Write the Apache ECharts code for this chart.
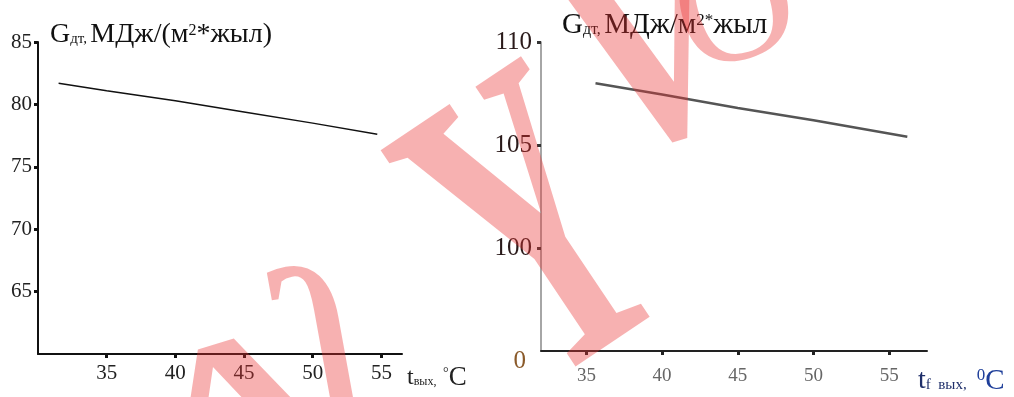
<!DOCTYPE html>
<html>
<head>
<meta charset="utf-8">
<script src="https://cdn.jsdelivr.net/npm/echarts@6.0.0/dist/echarts.min.js"></script>
<style>
  html, body { margin: 0; padding: 0; background: #fff; }
  #chart { width: 1014px; height: 397px; }
</style>
</head>
<body>
<div id="chart"></div>
<script>
// left panel: G vs t вых
const leftX = [31.5, 35, 40, 45, 50, 54.7]
const leftY = [81.7, 81.1, 80.3, 79.4, 78.5, 77.6]
const leftXTicks = [35, 40, 45, 50, 55]
const leftYTicks = [65, 70, 75, 80, 85]

// right panel: G vs tf вых (broken y axis, bottom labelled 0)
const rightX = [35.6, 40, 45, 50, 56.2]
const rightY = [108.0, 107.45, 106.8, 106.2, 105.4]
const rightXTicks = [35, 40, 45, 50, 55]
const rightYTicks = [100, 105, 110]
const rightYLabels = [95, 100, 105, 110]

const SERIF = "'Liberation Serif', 'Times New Roman', serif"
const PINK = 'rgba(235,50,50,0.38)'

const zip = (xs, ys) => xs.map((x, i) => [x, ys[i]])

const titleRich = (size) => ({
  b: { fontSize: size, fontFamily: SERIF, color: '#111' },
  s: { fontSize: Math.round(size * 0.55), fontFamily: SERIF, color: '#111', padding: [9, 0, 0, 0] },
  p: { fontSize: Math.round(size * 0.58), fontFamily: SERIF, color: '#111', padding: [0, 0, 9, 0] },
})

const dotTick = (values, color) => ({
  show: true,
  customValues: values,
  length: 4,
  lineStyle: { color: color, width: 3 },
})

// big rotated glyphs of the pink watermark
const mark = (text, x, y, size, rotation, scaleX, weight) => ({
  type: 'text',
  z: 100,
  x: x,
  y: y,
  rotation: rotation,
  scaleX: scaleX,
  silent: true,
  style: {
    text: text,
    font: (weight || 'normal') + ' ' + size + 'px ' + SERIF,
    fill: PINK,
    align: 'center',
    verticalAlign: 'middle',
  },
})

const chart = echarts.init(document.getElementById('chart'))

chart.setOption({
  animation: false,
  backgroundColor: '#fff',
  grid: [
    { left: 38, top: 42, width: 364, height: 312 },
    { left: 541, top: 42, width: 386, height: 309 },
  ],
  xAxis: [
    {
      gridIndex: 0,
      type: 'value',
      min: 30,
      max: 56.5,
      splitLine: { show: false },
      axisLine: { onZero: false, lineStyle: { color: '#111', width: 2 } },
      axisTick: dotTick(leftXTicks, '#111'),
      axisLabel: {
        customValues: leftXTicks,
        margin: 9,
        fontSize: 21,
        fontFamily: SERIF,
        color: '#222',
      },
      name: '{t|t}{s|вых,}  {d|°}{c|C}',
      nameLocation: 'end',
      nameGap: 5,
      nameTextStyle: {
        align: 'left', verticalAlign: 'middle', padding: [48, 0, 0, 0],
        rich: {
          t: { fontSize: 24, fontFamily: SERIF, color: '#222' },
          s: { fontSize: 12, fontFamily: SERIF, color: '#222', padding: [8, 0, 0, 0] },
          d: { fontSize: 14, fontFamily: SERIF, color: '#222', padding: [0, 0, 10, 0] },
          c: { fontSize: 27, fontFamily: SERIF, color: '#222' },
        },
      },
    },
    {
      gridIndex: 1,
      type: 'value',
      min: 32,
      max: 57.5,
      splitLine: { show: false },
      axisLine: { onZero: false, lineStyle: { color: '#222', width: 2 } },
      axisTick: dotTick(rightXTicks, '#222'),
      axisLabel: {
        customValues: rightXTicks,
        margin: 16,
        fontSize: 19,
        fontFamily: SERIF,
        color: '#666',
      },
      name: '{t|t}{f|f  вых,}   {d|0}{c|C}',
      nameLocation: 'end',
      nameGap: -9,
      nameTextStyle: {
        align: 'left', verticalAlign: 'middle', padding: [60, 0, 0, 0],
        rich: {
          t: { fontSize: 28, fontFamily: SERIF, color: '#1f2f6a' },
          f: { fontSize: 15, fontFamily: SERIF, color: '#1f2f6a', padding: [9, 0, 0, 0] },
          d: { fontSize: 17, fontFamily: SERIF, color: '#1f3f9a', padding: [0, 0, 11, 0] },
          c: { fontSize: 29, fontFamily: SERIF, color: '#1f3f9a' },
        },
      },
    },
  ],
  yAxis: [
    {
      gridIndex: 0,
      type: 'value',
      min: 60,
      max: 85,
      splitLine: { show: false },
      axisLine: { show: true, onZero: false, lineStyle: { color: '#111', width: 2 } },
      axisTick: dotTick(leftYTicks, '#111'),
      axisLabel: {
        customValues: leftYTicks,
        margin: 6,
        fontSize: 21,
        fontFamily: SERIF,
        color: '#222',
      },
      name: '{b|G}{s|дт,} {b|МДж/(м}{p|2}{b|*жыл)}',
      nameLocation: 'end',
      nameGap: 7,
      nameTextStyle: { align: 'left', verticalAlign: 'middle', padding: [0, 0, 0, 12], rich: titleRich(28) },
    },
    {
      gridIndex: 1,
      type: 'value',
      min: 95,
      max: 110,
      splitLine: { show: false },
      axisLine: { show: true, onZero: false, lineStyle: { color: '#888', width: 1.5 } },
      axisTick: dotTick(rightYTicks, '#333'),
      axisLabel: {
        customValues: rightYLabels,
        margin: 9,
        fontSize: 25,
        fontFamily: SERIF,
        color: '#2a1a1a',
        formatter: (v) => (v === 95 ? '{z|0}' : String(v)),
        rich: {
          z: { fontSize: 25, fontFamily: SERIF, color: '#8a5a2a', padding: [20, 6, 0, 0] },
        },
      },
      name: '{b|G}{s|дт,} {b|МДж/м}{p|2*}{b|жыл}',
      nameLocation: 'end',
      nameGap: 17,
      nameTextStyle: { align: 'left', verticalAlign: 'middle', padding: [0, 0, 0, 21], rich: titleRich(29) },
    },
  ],
  series: [
    {
      type: 'line',
      xAxisIndex: 0,
      yAxisIndex: 0,
      data: zip(leftX, leftY),
      showSymbol: false,
      lineStyle: { color: '#111', width: 1.5 },
    },
    {
      type: 'line',
      xAxisIndex: 1,
      yAxisIndex: 1,
      data: zip(rightX, rightY),
      showSymbol: false,
      lineStyle: { color: '#555', width: 2.5 },
    },
  ],
  graphic: [
    mark('Y', 548, 248, 440, 0.59, 0.56, 'bold'),
    mark('V', 655, 62, 300, 0.3, 0.8, 'bold'),
    mark('O', 737, 15, 165, 0.3, 1),
    mark('A', 254, 457, 300, 0.3, 1.35),
    mark('ſ', 337, 383, 280, 0.18, -1),
  ],
})
</script>
</body>
</html>
